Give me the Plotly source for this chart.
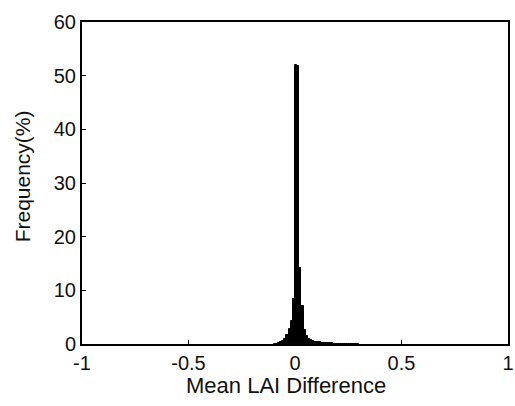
import plotly.graph_objects as go

# Histogram of mean LAI difference (bin width 0.01)
bin_centers = [-0.095, -0.085, -0.075, -0.065, -0.055, -0.045, -0.035, -0.025, -0.015, -0.005,
               0.005, 0.015, 0.025, 0.035, 0.045, 0.055, 0.065, 0.075, 0.085, 0.095,
               0.105, 0.115, 0.125, 0.135, 0.145, 0.155, 0.165, 0.175, 0.185, 0.195,
               0.205, 0.215, 0.225, 0.235, 0.245, 0.255, 0.265, 0.275, 0.285, 0.295]
frequency = [0.05, 0.08, 0.15, 0.3, 0.5, 0.9, 1.6, 2.8, 4.3, 8.4,
             52.0, 51.8, 14.2, 7.1, 2.6, 1.5, 1.0, 0.8, 0.6, 0.45,
             0.35, 0.3, 0.25, 0.2, 0.17, 0.14, 0.12, 0.1, 0.09, 0.08,
             0.07, 0.06, 0.05, 0.05, 0.04, 0.04, 0.03, 0.03, 0.02, 0.02]

x_ticks = [-1, -0.5, 0, 0.5, 1]
x_tick_labels = ["-1", "-0.5", "0", "0.5", "1"]
y_ticks = [0, 10, 20, 30, 40, 50, 60]
x_title = "Mean LAI Difference"
y_title = "Frequency(%)"

fig = go.Figure(go.Bar(
    x=bin_centers, y=frequency,
    marker=dict(color="black", line=dict(color="black", width=1)),
))

font = "Liberation Sans, Arial, sans-serif"
fig.update_layout(
    width=515, height=406,
    margin=dict(l=82, r=1, t=22, b=62),
    paper_bgcolor="white", plot_bgcolor="white",
    bargap=0, showlegend=False,
    font=dict(family=font, size=20, color="#111111"),
)
fig.update_xaxes(
    range=[-1, 1], tickvals=x_ticks, ticktext=x_tick_labels,
    ticks="inside", ticklen=4, tickwidth=1, tickcolor="black",
    showline=True, linewidth=2, linecolor="black", mirror=True,
    showgrid=False, zeroline=False, ticklabeloverflow="allow",
    tickfont=dict(size=20),
)
fig.update_yaxes(
    range=[0, 60], tickvals=y_ticks,
    ticks="inside", ticklen=4, tickwidth=1, tickcolor="black",
    showline=True, linewidth=2, linecolor="black", mirror=True,
    showgrid=False, zeroline=False,
    tickfont=dict(size=20),
)
fig.add_annotation(text=x_title, xref="paper", yref="paper", x=0.48, y=-0.13,
                   xanchor="center", yanchor="middle", showarrow=False,
                   font=dict(size=22))
fig.add_annotation(text=y_title, xref="paper", yref="paper", x=-0.139, y=0.52,
                   xanchor="center", yanchor="middle", textangle=-90, showarrow=False,
                   font=dict(size=21))

fig.write_html("out.html")
